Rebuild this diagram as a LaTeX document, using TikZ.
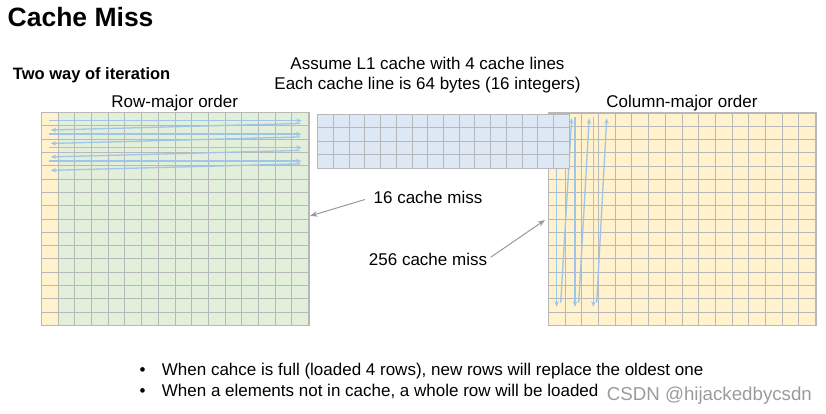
\documentclass[tikz,border=0pt]{standalone}
\usepackage{fontspec}
\setmainfont{Liberation Sans}
\usetikzlibrary{arrows.meta, positioning}
\definecolor{rowgreen}{HTML}{E2EFDA}
\definecolor{colyellow}{HTML}{FFF2CC}
\definecolor{cacheblue}{HTML}{DEE7F4}
\definecolor{gridgray}{HTML}{B8B8B8}
\definecolor{pathblue}{HTML}{9FC5E8}
\definecolor{missgray}{HTML}{999999}
\definecolor{markgray}{HTML}{9B9B9B}

\begin{document}
\begin{tikzpicture}[x=1pt,y=-1pt,>=Stealth]
    \tikzstyle{heading}=[inner sep=0pt, font=\bfseries\fontsize{26.5}{30}\selectfont]
    \tikzstyle{subheading}=[inner sep=0pt, font=\bfseries\fontsize{16.5}{20}\selectfont]
    \tikzstyle{caption}=[inner sep=1pt, font=\fontsize{17}{20}\selectfont]
    \tikzstyle{matrixbox}=[inner sep=0pt, anchor=north west]
    \tikzstyle{cellline}=[draw=gridgray, line width=1pt]
    \tikzstyle{walk}=[->, draw=pathblue, line width=1.3pt, >={Stealth[length=5.5pt,width=4.5pt]}]
    \tikzstyle{pointer}=[->, draw=missgray, line width=1pt]

    \useasboundingbox (0,0) rectangle (826,414);

    \node[heading, anchor=base west] (title) at (7.5,26.7) {Cache Miss};
    \node[subheading, anchor=base west] (ways) at (12.7,80) {Two way of iteration};
    \node[caption, anchor=base] (rowname) at (174.7,107.3) {Row-major order};
    \node[caption, anchor=base] (colname) at (682,107.3) {Column-major order};
    \node[caption, anchor=base] (assume) at (427.5,70) {Assume L1 cache with 4 cache lines};
    \node[caption, anchor=base] (lineinfo) at (427.5,89.3) {Each cache line is 64 bytes (16 integers)};

    % row-major matrix
    \node[matrixbox, fill=rowgreen, minimum width=267pt, minimum height=212.6pt] (rowmat) at (41.5,112.7) {};
    \fill[colyellow] (rowmat.north west) rectangle ++(16.6875,212.6);
    \foreach \i in {1,...,15}
        \draw[cellline] (41.5+\i*16.6875,112.7) -- (41.5+\i*16.6875,325.3);
    \foreach \j in {1,...,15}
        \draw[cellline] (41.5,112.7+\j*13.2875) -- (308.5,112.7+\j*13.2875);
    \draw[cellline, line width=1.2pt] (rowmat.north west) rectangle (rowmat.south east);
    \foreach \k in {0,...,3} {
        \coordinate (rs\k) at (49.3,120.7+13.45*\k);
        \coordinate (re\k) at (301.7,120.7+13.45*\k);
        \coordinate (ls\k) at (300,123.5+13.45*\k);
        \coordinate (le\k) at (50.7,130+13.45*\k);
        \draw[walk] (rs\k) -- (re\k);
        \draw[walk] (ls\k) -- (le\k);
    }

    % column-major matrix
    \node[matrixbox, fill=colyellow, minimum width=267pt, minimum height=212.3pt] (colmat) at (548.5,113) {};
    \foreach \i in {1,...,15}
        \draw[cellline] (548.5+\i*16.6875,113) -- (548.5+\i*16.6875,325.3);
    \foreach \j in {1,...,15}
        \draw[cellline] (548.5,113+\j*13.27) -- (815.5,113+\j*13.27);
    \draw[cellline, line width=1.2pt] (colmat.north west) rectangle (colmat.south east);
    \foreach \k in {0,1,2} {
        \coordinate (ds\k) at (556.7+18.3*\k,117);
        \coordinate (de\k) at (556.7+18.3*\k,306.7);
        \coordinate (us\k) at (560.7+18*\k,302.7);
        \coordinate (ue\k) at (571.7+17.5*\k,118.3);
        \draw[walk] (ds\k) -- (de\k);
        \draw[walk] (us\k) -- (ue\k);
    }

    % cache lines
    \node[matrixbox, fill=cacheblue, minimum width=251.6pt, minimum height=54pt] (cachemat) at (317.7,114.3) {};
    \foreach \i in {1,...,15}
        \draw[cellline] (317.7+\i*15.725,114.3) -- (317.7+\i*15.725,168.3);
    \foreach \j in {1,2,3}
        \draw[cellline] (317.7,114.3+\j*13.5) -- (569.3,114.3+\j*13.5);
    \draw[cellline, line width=1.2pt] (cachemat.north west) rectangle (cachemat.south east);

    \node[caption, anchor=base] (miss16) at (428,203.3) {16 cache miss};
    \node[caption, anchor=base] (miss256) at (428,265) {256 cache miss};
    \coordinate (rowhit) at (310,216);
    \coordinate (colhit) at (545,220);
    \draw[pointer, shorten <=8pt] (miss16.west) -- (rowhit);
    \draw[pointer, shorten <=3pt] (miss256.east) -- (colhit);

    \node[caption, anchor=base] (dotA) at (142.7,375.7) {\textbullet};
    \node[caption, anchor=base] (dotB) at (142.7,396) {\textbullet};
    \node[caption, anchor=base west] (bulletA) at (160.7,375.7) {When cahce is full (loaded 4 rows), new rows will replace the oldest one};
    \node[caption, anchor=base west] (bulletB) at (160.7,396) {When a elements not in cache, a whole row will be loaded};
    \node[inner sep=0pt, anchor=base west, text=markgray, font=\fontsize{18.7}{20}\selectfont] (csdn) at (606.7,400.7) {CSDN @hijackedbycsdn};
\end{tikzpicture}
\end{document}
